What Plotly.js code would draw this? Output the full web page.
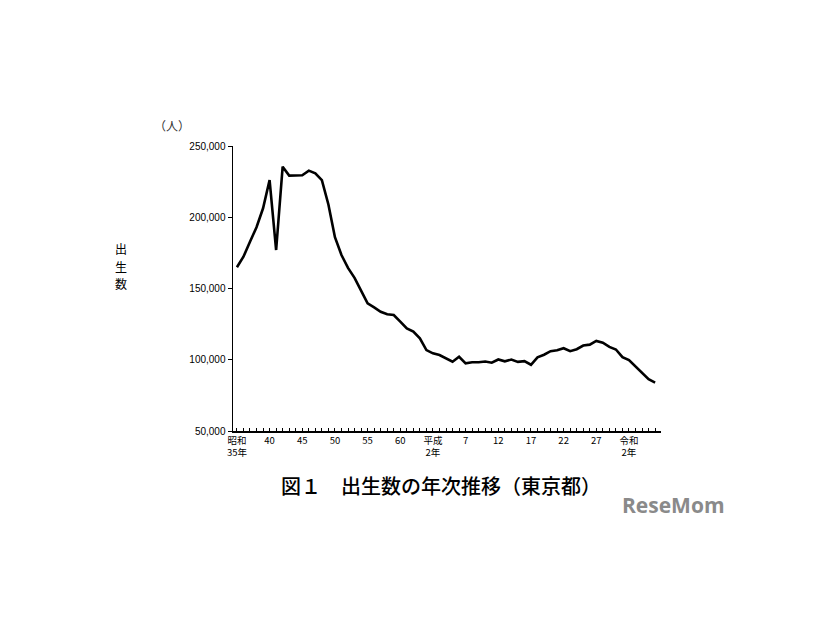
<!DOCTYPE html>
<html>
<head>
<meta charset="utf-8">
<script src="https://cdn.plot.ly/plotly-3.0.1.min.js"></script>
<style>html,body{margin:0;padding:0;background:#fff;}#chart{width:826px;height:620px;}</style>
</head>
<body>
<div id="chart"></div>
<script>
// Years (Western calendar) 1960 (昭和35) .. 2024 (令和6)
const years = [];
for (let y = 1960; y <= 2024; y++) years.push(y);

// Births in Tokyo (persons)
const births = [
  164900, 172300, 182800, 193000, 206300, 226100, 177000, 235500, 229200, 229200,
  229500, 232700, 230800, 226100, 209000, 186000, 173500, 164500, 157500, 148500,
  139600, 136800, 133700, 131900, 131400, 126700, 122000, 119700, 115000, 106800,
  104500, 103300, 101000, 98600, 102100, 97500, 98200, 98200, 98800, 97900,
  100200, 98900, 100100, 98500, 99000, 96500, 101700, 103500, 106000, 106600,
  108100, 106000, 107400, 110000, 110600, 113200, 112000, 109000, 107200, 101800,
  99700, 95400, 91100, 86300, 84000
];

// Labelled x ticks
const labelYears = [1960, 1965, 1970, 1975, 1980, 1985, 1990, 1995, 2000, 2005, 2010, 2015, 2020];
const labelTexts = ["昭和<br>35年", "40", "45", "50", "55", "60", "平成<br>2年", "7", "12", "17", "22", "27", "令和<br>2年"];

const yTicks = [50000, 100000, 150000, 200000, 250000];
const yTickText = ["50,000", "100,000", "150,000", "200,000", "250,000"];

// Vertical y-axis title characters
const yTitleChars = ["出", "生", "数"];

const tickvals = years.slice();
const ticktext = years.map(y => {
  const i = labelYears.indexOf(y);
  return i >= 0 ? labelTexts[i] : "";
});

const trace = {
  x: years,
  y: births,
  type: "scatter",
  mode: "lines",
  line: {color: "#000", width: 2.6},
  hoverinfo: "skip"
};

const jp = "'Noto Sans CJK JP', 'Noto Sans', sans-serif";

const yTitleAnns = yTitleChars.map((c, i) => ({
  text: c, xref: "paper", yref: "paper", x: -0.262, y: 0.6386 - i * 0.0597,
  xanchor: "center", yanchor: "middle", showarrow: false,
  font: {family: jp, size: 12, color: "#000"}
}));

const layout = {
  width: 826,
  height: 620,
  paper_bgcolor: "#fff",
  plot_bgcolor: "#fff",
  showlegend: false,
  margin: {l: 233, r: 165, t: 146, b: 189, pad: 0},
  font: {family: jp, color: "#000", size: 10},
  xaxis: {
    range: [1959.4, 2024.9],
    tickmode: "array",
    tickvals: tickvals,
    ticktext: ticktext,
    ticks: "inside",
    ticklen: 3,
    tickwidth: 1,
    tickcolor: "#000",
    showline: true,
    linecolor: "#000",
    linewidth: 1.5,
    showgrid: false,
    zeroline: false,
    tickangle: 0,
    tickfont: {family: jp, size: 9.5, color: "#000"}
  },
  yaxis: {
    range: [50000, 250000],
    tickmode: "array",
    tickvals: yTicks,
    ticktext: yTickText,
    ticks: "outside",
    ticklen: 4,
    tickwidth: 1,
    tickcolor: "#000",
    showline: true,
    linecolor: "#000",
    linewidth: 1.5,
    showgrid: false,
    zeroline: false,
    tickfont: {family: "Arial, 'Liberation Sans', sans-serif", size: 10, color: "#000"}
  },
  annotations: yTitleAnns.concat([
    {text: "（人）", xref: "paper", yref: "paper", x: -0.19, y: 1.035, xanchor: "left", yanchor: "bottom",
     showarrow: false, font: {family: jp, size: 12, color: "#333"}},
    {text: "図１　出生数の年次推移（東京都）", xref: "paper", yref: "paper", x: 0.487, y: -0.135, xanchor: "center", yanchor: "top",
     showarrow: false, font: {family: jp, size: 20, color: "#000", weight: 500}},
    {text: "<b>ReseMom</b>", xref: "paper", yref: "paper", x: 0.905, y: -0.205, xanchor: "left", yanchor: "top",
     showarrow: false, font: {family: "'Open Sans', sans-serif", size: 21, color: "#8a8a8a"}}
  ])
};

Plotly.newPlot("chart", [trace], layout, {displayModeBar: false, staticPlot: true});
</script>
</body>
</html>
